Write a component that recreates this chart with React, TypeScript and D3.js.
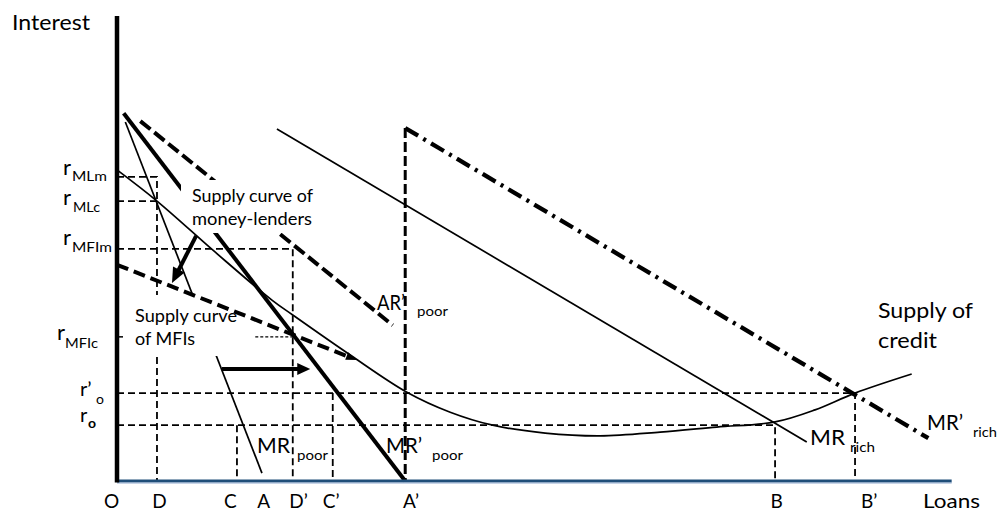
import React from "react";
import * as d3 from "d3";

const W = 997;
const H = 511;

// ---- Data (abstract units: loans 0..100, interest 0..100) ----
const xTickNames = ["O", "D", "C", "A", "D’", "C’", "A’", "B", "B’"];
const xTickLabelPos = [-0.66, 5.1, 13.6, 17.6, 21.8, 25.7, 35.3, 79.2, 90.3];

const qD = 4.8;
const qC = 14.4;
const qDp = 21.1;
const qCp = 25.9;
const qAp = 34.6;
const qB = 79;
const qBp = 88.6;

const rMLm = 65.4;
const rMLc = 60.2;
const rMFIm = 49.9;
const rMFIc = 31;
const rOp = 18.9;
const rO = 12;

type P = [number, number];

const supplyOfCredit: P[] = [
  [0, 66.9], [4.8, 60.2], [11.8, 49.2], [18.6, 38.9], [21.1, 35.7], [28.0, 27.1],
  [34.8, 19.1], [40.0, 14.8], [45.1, 12.0], [51.4, 10.3], [58.0, 9.7], [65.2, 10.5],
  [72.0, 11.6], [79.0, 12.7], [83.8, 15.3], [88.6, 18.9], [95.4, 23.0],
];
const mrPoor: P[] = [[1.0, 77.2], [17.4, 1.7]];
const mrPoorPrime: P[] = [[0.8, 79.1], [qAp, 0]];
const arPoorPrime: P[] = [[2.8, 77.4], [33.1, 33.5]];
const supplyMFI: P[] = [[0, 46.5], [28.8, 26.0]];
const mrRich: P[] = [[19.2, 75.7], [82.8, 8.4]];
const mrRichPrime: P[] = [[qAp, 75.9], [97.4, 9.2]];
const aPrimeVertical: P[] = [[qAp, 75.9], [qAp, 0]];

const guideLines: P[][] = [
  [[0, rMLm], [qD, rMLm], [qD, 0]],
  [[0, rMLc], [qD, rMLc]],
  [[0, rMFIm], [qDp, rMFIm], [qDp, 0]],
  [[0, rOp], [qBp, rOp], [qBp, 0]],
  [[qCp, rOp], [qCp, 0]],
  [[0, rO], [qB, rO], [qB, 0]],
  [[qC, rO], [qC, 0]],
];
const mfiDotted: P[] = [[16.6, rMFIc], [qDp, rMFIc]];

const shiftArrow: P[] = [[9.5, 52.7], [6.6, 42.6]];
const rightArrow: P[] = [[12.6, 24.1], [23.2, 24.1]];

const rLabelSubs = ["MLm", "MLc", "MFIm", "MFIc", "o", "o"];
const rLabelLevels = [rMLm, rMLc, rMFIm, rMFIc, rOp, rO];
const rLabelPrime = [false, false, false, false, true, false];

// ---- Scales ----
const xScale = d3.scaleLinear().domain([0, 100]).range([117, 950]);
const yScale = d3.scaleLinear().domain([0, 100]).range([481, 16]);
const line = d3
  .line<P>()
  .x((d) => xScale(d[0]))
  .y((d) => yScale(d[1]));
const curve = d3
  .line<P>()
  .x((d) => xScale(d[0]))
  .y((d) => yScale(d[1]))
  .curve(d3.curveCatmullRom.alpha(0.5));

function arrowParts(pts: P[], headLen: number, headW: number) {
  const x1 = xScale(pts[0][0]);
  const y1 = yScale(pts[0][1]);
  const x2 = xScale(pts[1][0]);
  const y2 = yScale(pts[1][1]);
  const dx = x2 - x1;
  const dy = y2 - y1;
  const len = Math.hypot(dx, dy);
  const ux = dx / len;
  const uy = dy / len;
  const bx = x2 - ux * headLen;
  const by = y2 - uy * headLen;
  const px = -uy;
  const py = ux;
  const head = `M${x2},${y2}L${bx + (px * headW) / 2},${by + (py * headW) / 2}L${bx - (px * headW) / 2},${by - (py * headW) / 2}Z`;
  return { x1, y1, x2: bx + ux * 1, y2: by + uy * 1, head };
}

// label layout (pixel offsets)
const rLabelLayout = [
  { rx: 63, rdy: -2, sx: 72, sdy: 4, tl: 35, fs: 22 },
  { rx: 63, rdy: 4, sx: 73, sdy: 11, tl: 27, fs: 22 },
  { rx: 63, rdy: -4, sx: 72, sdy: 3, tl: 40, fs: 22 },
  { rx: 57, rdy: 3, sx: 65, sdy: 11, tl: 33, fs: 22 },
  { rx: 80, rdy: 3, sx: 96, sdy: 11, tl: 0, fs: 20 },
  { rx: 80, rdy: -3, sx: 88, sdy: 3, tl: 0, fs: 20 },
];

const FONT = "Lato, 'Open Sans', sans-serif";

export default function App() {
  const a1 = arrowParts(shiftArrow, 15, 13);
  const a2 = arrowParts(rightArrow, 13, 12);
  const a3 = arrowParts(supplyMFI, 11, 8);

  return (
    <svg
      width={W}
      height={H}
      viewBox={`0 0 ${W} ${H}`}
      style={{ position: "absolute", left: 0, top: 0, background: "#fff" }}
      fontFamily={FONT}
    >
      <rect x={0} y={0} width={W} height={H} fill="#fff" />

      {/* guide dashed lines */}
      {guideLines.map((g, i) => (
        <path key={i} d={line(g) || ""} fill="none" stroke="#000" strokeWidth={1.8} strokeDasharray="7,4" />
      ))}
      <path d={line(mfiDotted) || ""} fill="none" stroke="#000" strokeWidth={1.2} strokeDasharray="3,2" />
      <line x1={xScale(0)} x2={xScale(0) + 6} y1={yScale(rMFIc)} y2={yScale(rMFIc)} stroke="#000" strokeWidth={1.5} />

      {/* A' vertical and MR'rich */}
      <path d={line(aPrimeVertical) || ""} fill="none" stroke="#000" strokeWidth={3} strokeDasharray="10,4" />
      <path d={line(mrRichPrime) || ""} fill="none" stroke="#000" strokeWidth={4.3} strokeDasharray="15,6,3,6" />

      {/* MR rich */}
      <path d={line(mrRich) || ""} fill="none" stroke="#000" strokeWidth={1.7} />
      {/* MR poor */}
      <path d={line(mrPoor) || ""} fill="none" stroke="#000" strokeWidth={1.7} />
      {/* MR' poor */}
      <path d={line(mrPoorPrime) || ""} fill="none" stroke="#000" strokeWidth={4} />
      {/* AR' poor */}
      <path d={line(arPoorPrime) || ""} fill="none" stroke="#000" strokeWidth={4} strokeDasharray="13,5" />

      {/* text boxes (white background) */}
      <rect x={181} y={180} width={131} height={53} fill="#fff" />
      <rect x={128} y={295} width={114} height={61} fill="#fff" />

      {/* Supply of credit curve */}
      <path d={curve(supplyOfCredit) || ""} fill="none" stroke="#000" strokeWidth={1.7} />

      {/* MFI supply dashed with arrowhead */}
      <line x1={a3.x1} y1={a3.y1} x2={a3.x2} y2={a3.y2} stroke="#000" strokeWidth={4} strokeDasharray="12,6" />
      <path d={a3.head} fill="#000" />

      {/* arrows */}
      <line x1={a1.x1} y1={a1.y1} x2={a1.x2} y2={a1.y2} stroke="#000" strokeWidth={4} />
      <path d={a1.head} fill="#000" />
      <line x1={a2.x1} y1={a2.y1} x2={a2.x2} y2={a2.y2} stroke="#000" strokeWidth={4} />
      <path d={a2.head} fill="#000" />

      {/* axes */}
      <line x1={xScale(0)} x2={xScale(100.2)} y1={yScale(0)} y2={yScale(0)} stroke="#1F4E79" strokeWidth={3} />
      <line x1={xScale(0)} x2={xScale(100.2)} y1={yScale(0) + 2} y2={yScale(0) + 2} stroke="#8FAAD0" strokeWidth={1.2} />
      <line x1={xScale(0)} x2={xScale(0)} y1={yScale(100)} y2={yScale(0) + 1.5} stroke="#000" strokeWidth={4.5} />

      {/* axis titles */}
      <text x={12} y={30} fontSize={22} textLength={78} lengthAdjust="spacingAndGlyphs">Interest</text>
      <text x={923} y={508} fontSize={19} textLength={57} lengthAdjust="spacingAndGlyphs">Loans</text>

      {/* x tick labels */}
      {xTickNames.map((n, i) => (
        <text key={n} x={xScale(xTickLabelPos[i])} y={508} fontSize={19} textAnchor="middle">
          {n}
        </text>
      ))}

      {/* y labels */}
      {rLabelSubs.map((s, i) => {
        const L = rLabelLayout[i];
        const yl = yScale(rLabelLevels[i]);
        return (
          <g key={i}>
            <text x={L.rx} y={yl + L.rdy} fontSize={L.fs}>
              {rLabelPrime[i] ? "r’" : "r"}
            </text>
            <text
              x={L.sx}
              y={yl + L.sdy}
              fontSize={i >= 4 ? 14 : 13}
              fontWeight={i === 5 ? 700 : 400}
              {...(L.tl ? { textLength: L.tl, lengthAdjust: "spacingAndGlyphs" } : {})}
            >
              {s}
            </text>
          </g>
        );
      })}

      {/* annotations */}
      <text x={192} y={202} fontSize={16.5} textLength={121} lengthAdjust="spacingAndGlyphs">Supply curve of</text>
      <text x={192} y={225} fontSize={16.5} textLength={120} lengthAdjust="spacingAndGlyphs">money-lenders</text>
      <text x={135} y={322} fontSize={16.5} textLength={102} lengthAdjust="spacingAndGlyphs">Supply curve</text>
      <text x={135} y={345} fontSize={16.5} textLength={60} lengthAdjust="spacingAndGlyphs">of MFIs</text>
      <text x={878} y={318} fontSize={21} textLength={95} lengthAdjust="spacingAndGlyphs">Supply of</text>
      <text x={878} y={348} fontSize={21} textLength={59} lengthAdjust="spacingAndGlyphs">credit</text>

      <text x={377} y={310} fontSize={21} textLength={28} lengthAdjust="spacingAndGlyphs">AR’</text>
      <text x={417} y={316} fontSize={14} textLength={31} lengthAdjust="spacingAndGlyphs">poor</text>

      <text x={257} y={453} fontSize={21} textLength={33} lengthAdjust="spacingAndGlyphs">MR</text>
      <text x={297} y={460} fontSize={14} textLength={31} lengthAdjust="spacingAndGlyphs">poor</text>

      <text x={386} y={453} fontSize={21} textLength={36} lengthAdjust="spacingAndGlyphs">MR’</text>
      <text x={432} y={460} fontSize={14} textLength={31} lengthAdjust="spacingAndGlyphs">poor</text>

      <text x={810} y={445} fontSize={21} textLength={35} lengthAdjust="spacingAndGlyphs">MR</text>
      <text x={850} y={452} fontSize={14} textLength={25} lengthAdjust="spacingAndGlyphs">rich</text>

      <text x={927} y={430} fontSize={21} textLength={36} lengthAdjust="spacingAndGlyphs">MR’</text>
      <text x={973} y={437} fontSize={14} textLength={24} lengthAdjust="spacingAndGlyphs">rich</text>
    </svg>
  );
}
